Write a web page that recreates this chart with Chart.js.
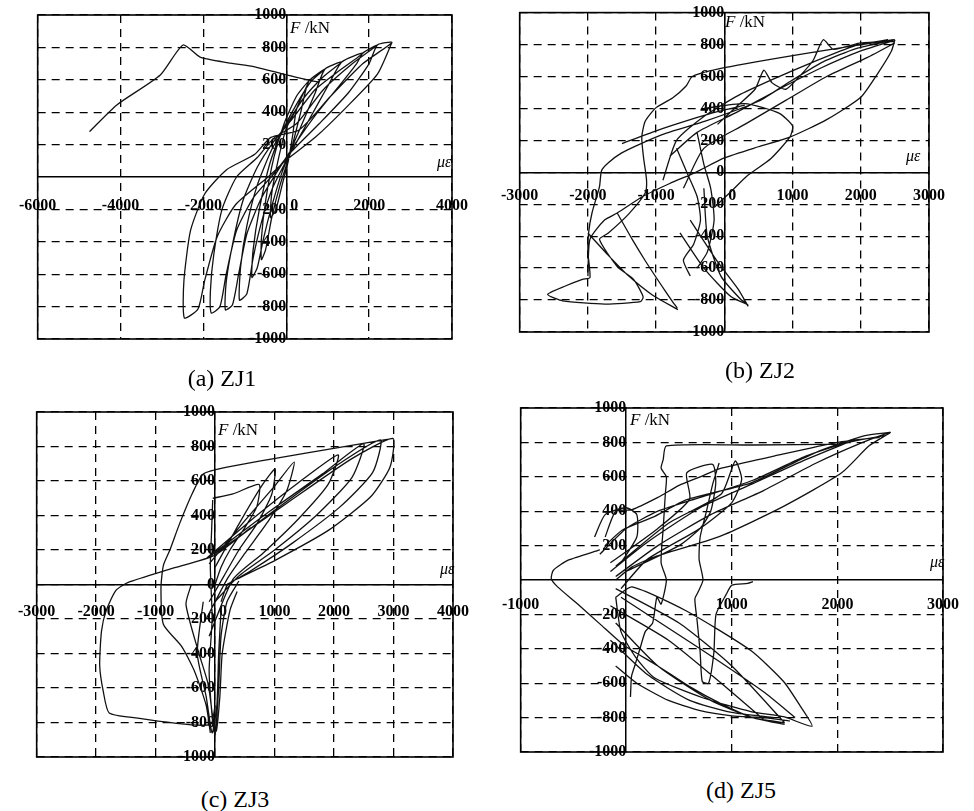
<!DOCTYPE html>
<html>
<head>
<meta charset="utf-8">
<script src="https://cdn.jsdelivr.net/npm/chart.js"></script>
<style>
  body { margin: 0; background: #fff; }
  #page { position: relative; width: 974px; height: 811px; font-family: "Liberation Serif", "DejaVu Serif", serif; color: #000; }
  canvas { position: absolute; }
  .cap { position: absolute; font-size: 24px; transform: translate(-50%, -50%); white-space: nowrap; }
  .ttl { position: absolute; font-size: 17px; white-space: nowrap; }
  .ue { position: absolute; font-size: 16px; font-style: italic; }
</style>
</head>
<body>
<div id="page">
  <canvas id="zj1" width="487" height="360" style="left:0;top:0"></canvas>
  <canvas id="zj2" width="487" height="355" style="left:487px;top:0"></canvas>
  <canvas id="zj3" width="487" height="380" style="left:0;top:390px"></canvas>
  <canvas id="zj5" width="487" height="380" style="left:487px;top:390px"></canvas>

  <div class="ttl" style="left:290px;top:18px"><i>F</i> /kN</div>
  <div class="ue" style="left:437px;top:153px">με</div>
  <div class="ttl" style="left:725px;top:12px"><i>F</i> /kN</div>
  <div class="ue" style="left:906px;top:147px">με</div>
  <div class="ttl" style="left:218px;top:420px"><i>F</i> /kN</div>
  <div class="ue" style="left:440px;top:560px">με</div>
  <div class="ttl" style="left:630px;top:410px"><i>F</i> /kN</div>
  <div class="ue" style="left:930px;top:553px">με</div>

  <div class="cap" style="left:222px;top:378px">(a) ZJ1</div>
  <div class="cap" style="left:760px;top:370px">(b) ZJ2</div>
  <div class="cap" style="left:235px;top:799px">(c) ZJ3</div>
  <div class="cap" style="left:741px;top:790px">(d) ZJ5</div>
</div>
<script>
// tick values of each panel
const zj1XTicks = [-6000, -4000, -2000, 0, 2000, 4000];
const zj2XTicks = [-3000, -2000, -1000, 0, 1000, 2000, 3000];
const zj3XTicks = [-3000, -2000, -1000, 0, 1000, 2000, 3000, 4000];
const zj5XTicks = [-1000, 1000, 2000, 3000];
const yTicksNoZero = [-1000, -800, -600, -400, -200, 200, 400, 600, 800, 1000];
const yTicksZero = [-1000, -800, -600, -400, -200, 0, 200, 400, 600, 800, 1000];

// strain (με) and force (kN); null breaks a stroke
const zj1Strain = [
  250, 0, -200, -350, -380, -250, -100, 50, 150, 250,
  540, 250, -50, -300, -500, -600, -600, -500, -350, -150, 100, 350, 540,
  930, 600, 250, -100, -400, -650, -800, -830, -700, -550, -350, -100, 300, 700, 930,
  1340, 900, 400, 0, -350, -700, -950, -1100, -1130, -950, -800, -600, -350, 0, 500, 1000, 1340,
  1850, 1300, 700, 150, -300, -700, -1050, -1300, -1450, -1470, -1300, -1150, -950, -600, -250, 150, 700, 1300, 1700, 1850,
  2200, 1600, 900, 250, -300, -700, -1200, -1550, -1750, -1830, -1810, -1600, -1450, -1200, -800, -300, 100, 800, 1500, 2000, 2200,
  2550, 1850, 1060, 310, -370, -760, -1440, -1970, -2310, -2470, -2460, -2130, -1970, -1670, -1220, -440, 0, 700, 1450, 2200, 2550,
  null,
  -4750, -4090, -3040, -2490, -2080, -1400, -760, 0, 600, 800
];
const zj1Force = [
  420, 300, 100, -100, -250, -200, -50, 100, 250, 420,
  590, 500, 330, 120, -150, -380, -510, -450, -250, -50, 150, 400, 590,
  665, 590, 450, 280, 80, -200, -450, -620, -560, -380, -180, 30, 280, 520, 665,
  710, 620, 480, 320, 170, -50, -300, -550, -760, -720, -500, -280, -80, 100, 330, 560, 710,
  765, 660, 540, 360, 220, 60, -150, -420, -650, -820, -790, -600, -350, -130, 20, 180, 380, 570, 700, 765,
  815, 700, 540, 330, 240, 120, 0, -200, -480, -700, -840, -800, -600, -330, -130, 20, 150, 330, 520, 700, 815,
  830, 700, 495, 290, 245, 140, 45, -105, -330, -640, -870, -815, -640, -370, -170, 0, 105, 245, 430, 635, 830,
  null,
  280, 445, 630, 815, 740, 705, 680, 630, 595, 585
];

const zj2Strain = [
  2480, 1200, 0, -470, -560, -760, -1000, -1160, -1210, -1185, -1140, -1160, -1400, -1700, -1830, -1570, -1330, -1190, -1230, -1750, -2370, -2590, -2330, -2080, -1970,
  -2000, -1990, -1940, -1830, -1800, -1700, -1510, -1220, -850, -280, 500, 970, 1440, 1930, 2500,
  null, -2000, -1970, -1760, -1570, -1190, -800, -420, 0, 500, 960, 1500, 2000, 2250, 2450, 2500,
  null, -300, 300, 800, 1000, 960, 680, 340, 100, -150,
  null, -2000, -1700, -1400, -1050, -680,
  null, -1570, -1350, -1150, -950, -760, -690,
  null, -650, -300, 100, 350,
  null, -500, -100, 200, 350,
  null, -300, -250, -50, 250, 330,
  null, -800, -400, 200, 800, 1400, 2000, 2450,
  null, -600, -300, 300, 900, 1500, 2100, 2500,
  null, -900, -700, -300, 200, 700, 1300, 1900, 2400,
  null, -100, 200, 450, 580, 700, 900, 1100, 1300, 1450, 1600, 2000, 2500,
  null, -1500, -1000, -500, -100, 300,
  null, -700, -550, -400, -350, -450, -600, -500,
  null, -400, -300, -200, -150, -250, -400
];
const zj2Force = [
  830, 745, 655, 600, 540, 465, 405, 320, 220, 95, -50, -130, -260, -380, -420, -590, -670, -780, -810, -825, -805, -765, -712, -670, -660,
  -500, -380, -255, -90, 10, 60, 120, 180, 245, 320, 445, 570, 690, 775, 830,
  null, -650, -420, -300, -255, -150, -70, 0, 90, 160, 220, 330, 470, 620, 760, 830,
  null, 400, 430, 370, 290, 220, 85, -20, -120, -220,
  null, -380, -520, -650, -770, -860,
  null, -255, -420, -560, -690, -810, -850,
  null, -380, -600, -780, -830,
  null, -300, -560, -730, -840,
  null, -100, -400, -650, -800, -820,
  null, 100, 250, 380, 520, 650, 760, 820,
  null, -100, 150, 300, 450, 600, 720, 810,
  null, -50, 200, 350, 480, 580, 690, 790, 830,
  null, 300, 420, 520, 640, 560, 520, 600, 700, 830, 770, 810, 820,
  null, 180, 260, 330, 380, 420,
  null, 150, 0, -150, -300, -450, -550, -650,
  null, 250, 50, -100, -300, -500, -600
];

const zj3Strain = [
  2990, 1500, 200, -200, -380, -600, -760, -870, -910, -870, -560, -350, -150, -80,
  null, 600, 0, -750, -1460, -1670, -1830, -1910, -1940, -1880, -1780, -1300, -650, -220, -60, 0,
  null, -40, -60, -80, -50, -100, -40, 0, 60, 100, 200, 400,
  null, -40, 300, 740, 700, 500, 250, 100, 0,
  null, 0, 400, 800, 1010, 950, 700, 400, 150, -100,
  null, -100, 500, 1000, 1330, 1200, 900, 500, 200, -150,
  null, -150, 700, 1400, 2070, 1900, 1400, 800, 300, -100,
  null, -100, 900, 1800, 2500, 2300, 1700, 1000, 400, 0,
  null, 0, 1000, 2000, 2780, 2650, 2100, 1300, 600, 200,
  null, 0, 1200, 2300, 2990, 2940, 2620, 1910, 1010, 420, 210, 100,
  null, -200, -300, -150, -50, 30, 60, 100,
  null, -400, -490, -280, -115, -35, 20, 80, 120, 250, 370
];
const zj3Force = [
  847, 760, 680, 640, 530, 350, 200, 110, -20, -230, -360, -500, -700, -860,
  null, 330, 170, 90, 12, -35, -150, -270, -470, -620, -745, -775, -805, -816, -805, -700,
  null, 490, 300, 100, -200, -500, -800, -870, -600, -300, -100, 20,
  null, 500, 525, 580, 450, 330, 200, 100, 0,
  null, 100, 350, 580, 670, 520, 350, 200, 50, -100,
  null, 120, 370, 570, 710, 540, 370, 180, 30, -200,
  null, 150, 400, 590, 752, 580, 380, 180, 30, -300,
  null, 160, 420, 640, 817, 620, 400, 200, 50, -100,
  null, 170, 430, 680, 838, 650, 450, 240, 80, 0,
  null, 180, 470, 730, 847, 680, 510, 315, 140, 40, 0, -100,
  null, -100, -400, -650, -860, -700, -400, -150,
  null, 0, -115, -390, -580, -780, -850, -650, -400, -150, -40
];

const zj5Strain = [
  2050, 1200, 380, 350, 330, 380, 370, 350, 330, 380, 330, 290, 250, 180, 130, 80, 50, 40,
  null, 880, 820, 760, 700, 690, 727, 680, 650, 670, 700, 720, 780, 830, 850, 950, 1000, 1150, 1200,
  null, -250, -550, -690, -710, -650, -460, -250, -40, 55, 300, 600, 900, 1200, 1500,
  null, -100, 55, 570, 1180, 1490, 1640, 1760, 1490, 1180, 730, 270, 90, -50, -100,
  null, -100, 500, 1000, 1500,
  null, -150, 400, 900, 1300,
  null, -100, 300, 800, 1200, 1500,
  null, -50, 700, 1300, 1600,
  null, -150, 200, 600, 1000, 1400,
  null, -100, 100, 400, 700, 1000, 1300, 1550,
  null, -100, 300, 800, 1300, 1800, 2200, 2500, 2300, 2040, 1490, 880, 270, 55, -100,
  null, -250, 0, 300, 700, 1200, 1700, 2100, 2450,
  null, -200, -36, 270, 573, 1183, 1793, 2250, 2500,
  null, -150, 300, 600, 573, 818, 848, 800, 700, 500, 0,
  null, -100, 400, 900, 1032, 1093, 1000, 700, 200, -50,
  null, -200, -100, 55, 300, 500, 700, 900, 1400, 2000, 2400,
  null, -300, -200, 0, 100, 100, -50,
  null, -150, 200, 700, 1200, 1700, 2100
];
const zj5Force = [
  790, 785, 780, 700, 650, 600, 500, 300, 100, 0, -140, -100, -250, -300, -400, -500, -560, -680,
  null, 680, 560, 400, 250, 120, 0, -70, -110, -230, -420, -590, -600, -420, -200, -80, -30, -20, -10,
  null, 175, 115, 57, 8, -40, -140, -255, -370, -410, -500, -620, -720, -800, -830,
  null, -100, -40, -180, -410, -590, -725, -850, -795, -765, -686, -570, -450, -300, -100,
  null, -50, -250, -500, -830,
  null, -150, -350, -600, -810,
  null, -250, -500, -700, -800, -840,
  null, -100, -400, -650, -800,
  null, -350, -550, -700, -770, -800,
  null, -500, -600, -700, -760, -790, -800, -820,
  null, 20, 200, 380, 520, 680, 790, 858, 780, 623, 428, 252, 135, 76, 0,
  null, 150, 300, 400, 480, 580, 720, 800, 840,
  null, 200, 291, 370, 467, 565, 741, 838, 858,
  null, 100, 300, 470, 623, 672, 565, 400, 300, 200, 50,
  null, 80, 330, 500, 692, 585, 450, 300, 120, -50,
  null, 250, 400, 409, 480, 550, 600, 650, 720, 800, 830,
  null, 250, 380, 420, 380, 250, 100,
  null, 50, 220, 420, 560, 700, 800
];

const tickFont = { family: '"Liberation Serif", serif', size: 16, weight: 'bold' };

const boxPlugin = {
  id: 'box',
  afterDraw(chart) {
    const { ctx, chartArea: a } = chart;
    ctx.save();
    ctx.strokeStyle = '#000';
    ctx.lineWidth = 1.6;
    ctx.strokeRect(a.left, a.top, a.right - a.left, a.bottom - a.top);
    ctx.restore();
  }
};

// the x label "0" sits just right of the vertical axis in the original
const xLabel = v => (v === 0 ? '    0' : String(v));

function drawPanel(id, strain, force, xTicks, yTicks, pad, xPad) {
  const points = strain.map((s, i) => ({ x: s, y: force[i] }));
  new Chart(document.getElementById(id), {
    type: 'scatter',
    data: {
      datasets: [{
        data: points,
        showLine: true,
        borderColor: '#111',
        borderWidth: 1.3,
        pointRadius: 0,
        tension: 0.2
      }]
    },
    options: {
      responsive: false,
      animation: false,
      layout: { padding: pad },
      plugins: { legend: { display: false }, tooltip: { enabled: false } },
      scales: {
        x: {
          type: 'linear',
          min: xTicks[0],
          max: xTicks[xTicks.length - 1],
          position: { y: 0 },
          afterBuildTicks: (s) => { s.ticks = xTicks.map(v => ({ value: v })); },
          grid: { color: '#000', lineWidth: 1.3, drawTicks: false },
          border: { color: '#000', width: 1.5, dash: [8, 6] },
          ticks: { padding: xPad, font: tickFont, color: '#000', autoSkip: false, maxRotation: 0, callback: xLabel }
        },
        y: {
          type: 'linear',
          min: -1000,
          max: 1000,
          position: { x: 0 },
          afterBuildTicks: (s) => { s.ticks = yTicks.map(v => ({ value: v })); },
          grid: { color: '#000', lineWidth: 1.3, drawTicks: false },
          border: { color: '#000', width: 1.5, dash: [8, 6] },
          ticks: { font: tickFont, color: '#000', autoSkip: false, callback: v => String(v) }
        }
      }
    },
    plugins: [boxPlugin]
  });
}

drawPanel('zj1', zj1Strain, zj1Force, zj1XTicks, yTicksNoZero, { left: 23, top: 15, right: 25, bottom: 21 }, 19);
drawPanel('zj2', zj2Strain, zj2Force, zj2XTicks, yTicksZero, { left: 23, top: 10, right: 45, bottom: 23 }, 14);
drawPanel('zj3', zj3Strain, zj3Force, zj3XTicks, yTicksZero, { left: 27, top: 22, right: 24, bottom: 13 }, 18);
drawPanel('zj5', zj5Strain, zj5Force, zj5XTicks, yTicksNoZero, { left: 28, top: 18, right: 22, bottom: 18 }, 15);
</script>
</body>
</html>
